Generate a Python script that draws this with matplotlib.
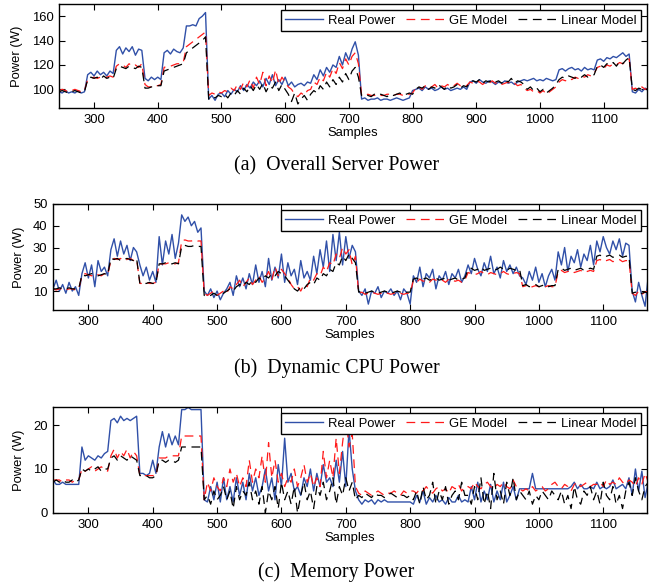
import numpy as np
import matplotlib
matplotlib.use("Agg")
import matplotlib.pyplot as plt

# sample index (every 5th sample)
samples = np.arange(245, 1171, 5)

# (a) overall server power, W
a_real = [98, 97, 99, 97, 98, 97, 99, 97, 98,
          112, 114, 111, 115, 112, 114, 111, 115, 113,
          132, 135, 129, 134, 131, 135, 128, 133, 132,
          109, 107, 110, 108, 110, 108,
          130, 132, 129, 133, 131, 130, 134,
          152, 152, 153, 152, 158, 160, 163,
          92, 95, 91, 96, 97, 94, 99, 96, 100, 98, 103, 99, 104, 101, 106, 103,
          107, 102, 109, 104, 112, 103, 108, 104, 110, 103, 106, 102, 104, 105,
          103, 106, 105, 112, 108, 116, 111, 118, 114, 120, 118, 127, 120, 130,
          124, 133, 139, 128,
          92, 93, 91, 92, 92, 93, 91, 92, 92, 91, 92, 93, 92, 91, 92, 93, 99,
          100, 101, 99, 102, 100, 101, 99, 100, 102, 100, 101, 99, 100, 101, 100, 102, 100,
          106, 107, 105, 108, 106, 105, 107, 106, 104, 106, 105, 107, 105, 106, 104, 106, 107,
          108, 107, 108, 109, 107, 108, 107, 109, 108, 107, 108,
          116, 117, 115, 117, 118, 116, 117, 115, 118, 116, 117, 116,
          124, 125, 123, 126, 125, 127, 126, 128, 130, 127, 129,
          98, 97, 100, 98, 101, 99]
a_ge = [99, 100, 99, 98, 99, 100, 99, 98, 99,
        108, 109, 110, 109, 110, 109, 110, 111, 110,
        119, 121, 120, 118, 121, 119, 120, 118, 121,
        104, 102, 102, 103, 103, 104,
        118, 119, 119, 120, 121, 121, 122,
        135, 137, 139, 141, 143, 145, 147,
        95, 97, 96, 98, 97, 99, 98, 101, 99, 104, 100, 106, 102, 108, 101, 110,
        104, 114, 103, 111, 105, 116, 104, 110, 106, 102, 100, 96, 94, 97,
        95, 99, 100, 106, 104, 110, 107, 114, 110, 117, 113, 122, 117, 125,
        120, 127, 130, 121,
        95, 95, 96, 95, 95, 96, 95, 95, 96, 96, 95, 96, 96, 95, 96, 96, 97,
        101, 102, 100, 103, 101, 102, 104, 101, 103, 102, 104, 102, 103, 105, 103, 104, 103,
        106, 105, 107, 106, 104, 106, 105, 107, 105, 106, 104, 105, 106, 104, 105, 103, 104,
        101, 99, 100, 98, 99, 97, 99, 96, 98, 100, 102,
        106, 108, 107, 109, 108, 110, 109, 111, 110, 112, 111, 113,
        118, 119, 117, 120, 119, 121, 120, 122, 121, 123, 125,
        100, 101, 99, 102, 100, 101]
a_lin = [98, 99, 98, 97, 98, 99, 98, 97, 98,
         108, 110, 109, 110, 108, 111, 109, 110, 109,
         117, 119, 118, 117, 119, 118, 117, 119, 118,
         101, 101, 102, 102, 103, 103,
         115, 116, 117, 118, 119, 120, 121,
         130, 132, 134, 136, 138, 140, 143,
         92, 94, 93, 95, 94, 96, 93, 97, 95, 99, 96, 101, 98, 103, 99, 104,
         100, 105, 98, 103, 101, 106, 99, 104, 100, 96, 90, 97, 88, 92,
         95, 91, 96, 99, 97, 103, 100, 106, 102, 108, 104, 110, 106, 113,
         108, 115, 118, 110,
         95, 96, 95, 94, 96, 95, 96, 95, 94, 96, 95, 96, 97, 95, 96, 97, 96,
         100, 102, 101, 103, 100, 102, 101, 104, 102, 100, 103, 101, 102, 104, 101, 103, 102,
         106, 107, 106, 108, 105, 107, 106, 108, 106, 107, 105, 108, 106, 109, 105, 107, 106,
         104, 100, 102, 99, 101, 98, 100, 97, 99, 101, 104,
         108, 110, 109, 111, 110, 109, 111, 110, 112, 110, 111, 112,
         119, 120, 118, 121, 120, 122, 119, 123, 121, 124, 126,
         100, 99, 101, 100, 99, 101]

# (b) dynamic CPU power, W
b_real = [11, 15, 10, 13, 9, 14, 10, 12, 8,
          18, 23, 16, 22, 12, 24, 19, 21, 17,
          29, 34, 26, 33, 27, 31, 24, 30, 28,
          22, 17, 21, 15, 19, 14,
          35, 22, 33, 27, 36, 25, 32,
          45, 42, 44, 40, 42, 37, 39,
          10, 8, 11, 7, 10, 6, 9, 11, 14, 8, 17, 12, 16, 11, 18, 13,
          22, 14, 19, 12, 25, 15, 21, 16, 27, 14, 23, 17, 20, 13,
          24, 16, 19, 15, 26, 18, 29, 21, 33, 19, 36, 24, 37, 22,
          35, 25, 31, 28,
          10, 8, 11, 4, 10, 9, 12, 7, 10, 9, 11, 8, 10, 6, 11, 9, 4,
          17, 14, 21, 12, 18, 16, 20, 11, 17, 15, 19, 13, 18, 16, 20, 14, 17,
          22, 18, 25, 20, 17, 23, 19, 26, 18, 21, 16, 24, 19, 22, 18, 21, 17,
          16, 13, 19, 15, 21, 14, 18, 12, 17, 20, 15,
          28, 22, 30, 19, 26, 23, 29, 21, 27, 24, 31, 22,
          33, 28, 35, 30, 27, 33, 29, 34, 26, 32, 31,
          10, 5, 14, 8, 3, 17]
b_ge = [11, 10.5, 11, 11, 10.5, 11, 11, 10.5, 11,
        17, 18, 17.5, 17, 18, 17.5, 17, 18, 17.5,
        24, 25, 24.5, 25, 24, 24.5, 25, 24, 24.5,
        13.5, 13.5, 14, 13.5, 13.5, 14,
        22.5, 22.5, 22.5, 23, 22.5, 22.5, 23,
        33, 33.5, 33, 33, 33.5, 33, 33,
        9, 8, 9, 10, 8, 9, 10, 9, 12, 11, 13, 15, 12, 14, 16, 13,
        15, 17, 14, 16, 19, 15, 21, 17, 20, 18, 16, 13, 11, 12,
        10, 13, 12, 16, 15, 18, 17, 21, 19, 23, 22, 27, 25, 30,
        27, 29, 22, 26,
        9, 9.5, 8.5, 9, 9.5, 9, 8.5, 9, 9.5, 9, 8.5, 9, 9.5, 9, 8.5, 9, 9,
        15, 14, 15.5, 14.5, 15, 14, 15.5, 15, 14.5, 15, 14, 15.5, 15, 14.5, 15, 14, 15,
        18.5, 18, 17.5, 18, 19, 18, 17.5, 18.5, 18, 17.5, 18, 19, 18, 17.5, 18, 18.5, 18,
        12, 12.5, 11.5, 12, 12.5, 12, 11.5, 12, 12.5, 12, 12,
        19, 19.5, 18.5, 19, 19.5, 18.5, 19, 19.5, 18.5, 19, 19.5, 19,
        24, 24.5, 23.5, 24, 24.5, 23.5, 24, 24.5, 23.5, 24, 24,
        9, 8, 10, 8.5, 9.5, 10]
b_lin = [11, 11, 11.5, 11, 11, 11.5, 11, 11, 11,
         17.5, 17, 17.5, 18, 17.5, 17, 17.5, 18, 17.5,
         25, 24.5, 25, 24, 24.5, 25, 24.5, 24, 25,
         13.5, 13.5, 13.5, 14, 13.5, 13.5,
         22.5, 22.5, 23, 22.5, 22.5, 23, 22.5,
         30.5, 31, 30.5, 30.5, 31, 30.5, 30.5,
         8, 7.5, 8, 9, 8, 8.5, 9, 10, 11, 10, 12, 13, 12, 14, 13, 15,
         14, 16, 15, 17, 16, 18, 17, 19, 18, 17, 15, 13, 11, 10,
         12, 11, 13, 14, 13, 16, 15, 18, 17, 20, 19, 23, 22, 26,
         24, 27, 25, 23,
         9.5, 10, 9, 9.5, 10, 9.5, 9, 9.5, 10, 9.5, 9, 9.5, 10, 9.5, 9, 9.5, 9.5,
         15.5, 16, 15, 15.5, 16, 15, 15.5, 16, 15, 15.5, 16, 15, 15.5, 16, 15, 15.5, 16,
         20, 20.5, 19.5, 20, 21, 19.5, 20, 20.5, 19.5, 20, 21, 20, 19.5, 20.5, 20, 19.5, 20,
         12.5, 13, 12, 12.5, 13, 12, 12.5, 13, 12, 12.5, 12.5,
         20, 20.5, 19.5, 20, 20.5, 19.5, 20, 20.5, 19.5, 20, 20.5, 20,
         26, 26.5, 25.5, 26, 26.5, 25.5, 26, 26.5, 25.5, 26, 26,
         9, 9.5, 8.5, 9, 9.5, 9]

# (c) memory power, W
c_real = [7.5, 6.5, 6.5, 7, 6.5, 6.5, 6.5, 6.5, 6.5,
          15, 12, 13, 12.5, 12, 13, 12.5, 13.5, 14,
          21, 21.5, 20.5, 22, 21, 21.5, 21, 21.5, 22,
          9, 9, 8.5, 9, 12, 9,
          15, 18.5, 15, 18, 15.5, 17.5, 15.5,
          23.5, 23.5, 24, 23.5, 23.5, 23.5, 23.5,
          3, 2.5, 6, 3, 7, 2.5, 8, 3, 6, 2.5, 8, 4, 7, 3, 9, 5,
          8, 4, 6, 10, 5, 8, 3, 11, 6, 17, 7, 9, 5, 6,
          4, 8, 6, 10, 5, 9, 6, 11, 7, 8, 6, 12, 7, 14,
          6, 19, 10, 5,
          3, 2, 3, 2.5, 3, 2, 3, 2.5, 3, 2.5, 2.5, 2.5, 2.5, 2.5, 2.5, 2.5, 2.5,
          2, 4, 2.5, 5, 2, 3.5, 2.5, 4, 2.5, 3, 2, 3.5, 2.5, 2.5, 4, 2.5, 3,
          2.5, 6, 3, 7, 2.5, 5, 3, 6.5, 2.5, 5, 3, 7, 2.5, 4, 6, 3, 5.5,
          5.5, 5.5, 5.5, 9, 5.5, 5.5, 5.5, 5.5, 5.5, 5.5, 5.5,
          5.5, 5.5, 5.5, 5.5, 6, 7, 5.5, 6.5, 5.5, 5.5, 6, 5.5,
          7, 5.5, 6, 5.5, 6, 7.5, 5.5, 6, 6.5, 5.5, 8,
          4, 10, 5, 9.5, 3.5, 7]
c_ge = [7.5, 7.5, 7.5, 7, 7.5, 7.5, 7, 7.5, 7.5,
        10, 9.5, 10, 10.5, 9.5, 10, 10.5, 10, 9.5,
        13, 14.5, 12.5, 14, 13, 14.5, 12.5, 14, 13,
        8.5, 8.5, 8.5, 8.5, 8.5, 8.5,
        12.5, 12.5, 12.5, 13, 13, 13, 13,
        17.5, 17.5, 17.5, 17.5, 17.5, 17.5, 17.5,
        3, 7, 5, 8, 6, 5, 8, 6, 10, 7, 9, 6, 8, 6, 12, 7,
        10, 8, 13, 7, 16, 8, 12, 7, 9, 6, 8, 7, 10, 6,
        8, 11, 7, 9, 6, 8, 6, 14, 8, 12, 8, 17, 9, 16,
        22, 15, 18, 6,
        4.5, 4, 5, 4.5, 4, 4.5, 5, 4.5, 4, 4.5, 4.5, 5, 4.5, 4, 5, 4.5, 5,
        5, 4.5, 5.5, 5, 6, 5, 4.5, 5.5, 6, 5, 5.5, 4.5, 6, 5.5, 6.5, 5, 6,
        6, 5.5, 7, 6, 5.5, 6.5, 7, 6, 5.5, 6.5, 6, 7, 6, 5.5, 7.5, 6, 5.5,
        5, 5.5, 5, 6, 5, 5.5, 6, 5, 5.5, 6.5, 7,
        6, 5.5, 6.5, 6, 5, 6.5, 7, 6, 6.5, 7, 6, 6.5,
        6.5, 7, 6, 7.5, 6.5, 7, 6.5, 8, 7, 6.5, 7.5,
        7, 6, 8, 6.5, 9, 7]
c_lin = [7, 7.5, 7, 7.5, 7, 7, 7.5, 7, 7.5,
         10, 9.5, 10, 9.5, 10, 10.5, 9.5, 10, 10,
         12.5, 13, 12, 13, 12.5, 12, 13, 12.5, 12,
         8.5, 8.5, 8.5, 8, 8, 8.5,
         12, 12, 11.5, 12, 12, 11.5, 12,
         15, 15, 15, 15, 15, 15, 15,
         3, 4, 2, 5, 3, 4, 6, 3, 5, 1, 6, 3, 5, 4, 7, 3,
         5, 2, 6, 0, 5, 3, 6, 1, 7, 3, 5, 2, 6, 0,
         4, 7, 3, 5, 1, 6, 4, 7, 3, 5, 8, 2, 6, 4,
         8, 5, 7, 3,
         4, 3.5, 4.5, 4, 3.5, 4.5, 4, 4, 3.5, 4, 4.5, 4, 3.5, 4, 4, 3.5, 4,
         3, 5, 2, 6, 3, 4, 7, 2, 5, 3, 6, 2, 4, 5, 3, 7, 4,
         4, 2, 6, 3, 8, 2, 5, 1, 9, 3, 5, 2, 7, 4, 8, 3, 5,
         4, 3, 5, 2, 4, 3, 5, 4, 3, 5, 4,
         3, 5, 2, 4, 1, 6, 3, 2, 5, 4, 6, 3,
         5, 2, 7, 4, 3, 6, 2, 4, 1, 5, 7,
         4, 8, 5, 3, 6, 7]

plt.rcParams["font.family"] = ["Liberation Sans", "DejaVu Sans"]
plt.rcParams["font.size"] = 9.4

fig = plt.figure(figsize=(6.54, 5.87), dpi=100)

panels = [
    (a_real, a_ge, a_lin, [0.0902, 0.8160, 0.8991, 0.1772], (84.7, 170), [100, 120, 140, 160],
     "(a)  Overall Server Power", 0.7172),
    (b_real, b_ge, b_lin, [0.0810, 0.4719, 0.9083, 0.1806], (1.3, 50), [10, 20, 30, 40, 50],
     "(b)  Dynamic CPU Power", 0.3731),
    (c_real, c_ge, c_lin, [0.0810, 0.1261, 0.9083, 0.1806], (0, 24.1), [0, 10, 20],
     "(c)  Memory Power", 0.0256),
]

for real, ge, lin, pos, ylim, yt, caption, cy in panels:
    assert len(real) == len(ge) == len(lin) == len(samples)
    ax = fig.add_axes(pos)
    ax.plot(samples, real, color="#3050a8", lw=1.0, label="Real Power")
    ax.plot(samples, ge, color="#ff1a1a", lw=0.9, ls=(0, (7, 4.5)), label="GE Model")
    ax.plot(samples, lin, color="black", lw=0.9, ls=(0, (7, 4.5)), label="Linear Model")
    ax.set_xlim(245, 1168)
    ax.set_ylim(*ylim)
    ax.set_xticks([300, 400, 500, 600, 700, 800, 900, 1000, 1100])
    ax.set_yticks(yt)
    ax.tick_params(direction="in", top=True, right=True, length=4.5, width=0.8, pad=4)
    for s in ax.spines.values():
        s.set_linewidth(1.0)
    ax.set_xlabel("Samples", labelpad=1)
    ax.set_ylabel("Power (W)", labelpad=6)
    leg = ax.legend(loc="upper right", ncol=3, fancybox=False, edgecolor="black",
                    framealpha=1, borderaxespad=0.45, handlelength=2.9,
                    columnspacing=0.8, handletextpad=0.4, borderpad=0.35)
    leg.get_frame().set_linewidth(1.0)
    fig.text(0.5145, cy, caption, ha="center", va="center",
             family=["Liberation Serif", "DejaVu Serif"], fontsize=14.3)

fig.savefig("out.png", dpi=100)
